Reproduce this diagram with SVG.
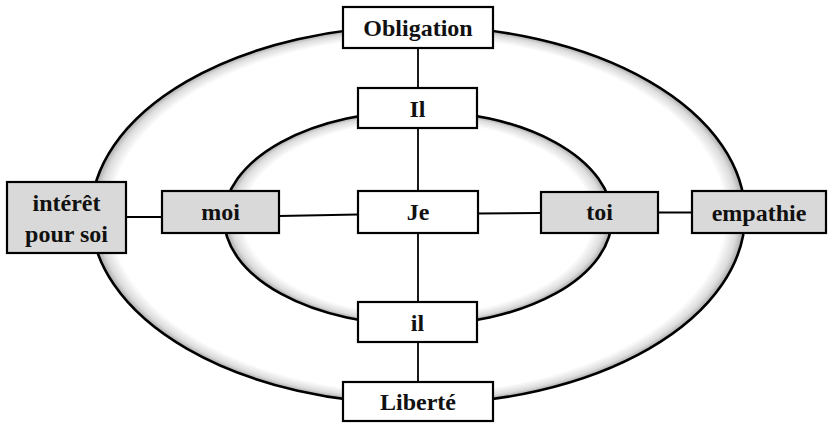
<svg xmlns="http://www.w3.org/2000/svg" width="828" height="423" viewBox="0 0 828 423">
<style>
.box{stroke:#000;stroke-width:2.2}
.w{fill:#fff}
.g{fill:#d9d9d9}
.lbl{font-family:"Liberation Serif","DejaVu Serif",serif;font-weight:bold;font-size:24px;fill:#111;text-anchor:middle}
.ell{stroke:#000;stroke-width:2.6}
.con line{stroke:#000;stroke-width:1.8}
</style>
<defs>
<radialGradient id="shOuter" cx="0.5" cy="0.5" r="0.5">
<stop offset="0" stop-color="#fff"/>
<stop offset="0.94" stop-color="#fff"/>
<stop offset="0.978" stop-color="#dcdcdc"/>
<stop offset="1" stop-color="#a8a8a8"/>
</radialGradient>
<radialGradient id="shInner" cx="0.5" cy="0.5" r="0.5">
<stop offset="0" stop-color="#fff"/>
<stop offset="0.9" stop-color="#fff"/>
<stop offset="0.965" stop-color="#dcdcdc"/>
<stop offset="1" stop-color="#a8a8a8"/>
</radialGradient>
</defs>
<rect width="828" height="423" fill="#fff"/>
<g id="rings">
<ellipse class="ell" cx="418" cy="215" rx="327" ry="189" fill="url(#shOuter)"/>
<ellipse class="ell" cx="418" cy="218" rx="194" ry="107" fill="url(#shInner)"/>
</g>
<g id="connectors" class="con">
<line x1="418" y1="48" x2="418" y2="88"/>
<line x1="418" y1="128" x2="418" y2="191"/>
<line x1="418" y1="233" x2="418" y2="302"/>
<line x1="418" y1="342" x2="418" y2="382"/>
<line x1="126" y1="217" x2="162" y2="217"/>
<line x1="279" y1="216" x2="358" y2="214.5"/>
<line x1="478" y1="213.5" x2="541" y2="213"/>
<line x1="658" y1="212.5" x2="692" y2="212.5"/>
</g>
<g id="obligation">
<rect class="box w" x="343" y="7" width="150" height="41"/>
<text class="lbl" x="418" y="36">Obligation</text>
</g>
<g id="Il">
<rect class="box w" x="358" y="88" width="119" height="40"/>
<text class="lbl" x="417.5" y="117">Il</text>
</g>
<g id="je">
<rect class="box w" x="358" y="191" width="120" height="42"/>
<text class="lbl" x="418" y="220">Je</text>
</g>
<g id="il">
<rect class="box w" x="358" y="302" width="119" height="40"/>
<text class="lbl" x="417.5" y="330.5">il</text>
</g>
<g id="liberte">
<rect class="box w" x="343" y="382" width="150" height="39"/>
<text class="lbl" x="418" y="410">Liberté</text>
</g>
<g id="interet">
<rect class="box g" x="7" y="182" width="119" height="71"/>
<text class="lbl" x="66.5" y="211">intérêt</text>
<text class="lbl" x="66.5" y="241.5">pour soi</text>
</g>
<g id="moi">
<rect class="box g" x="162" y="191" width="117" height="42"/>
<text class="lbl" x="220.5" y="219.5">moi</text>
</g>
<g id="toi">
<rect class="box g" x="541" y="192" width="117" height="41"/>
<text class="lbl" x="599.5" y="220">toi</text>
</g>
<g id="empathie">
<rect class="box g" x="692" y="191" width="134" height="42"/>
<text class="lbl" x="759" y="220.5">empathie</text>
</g>
</svg>
